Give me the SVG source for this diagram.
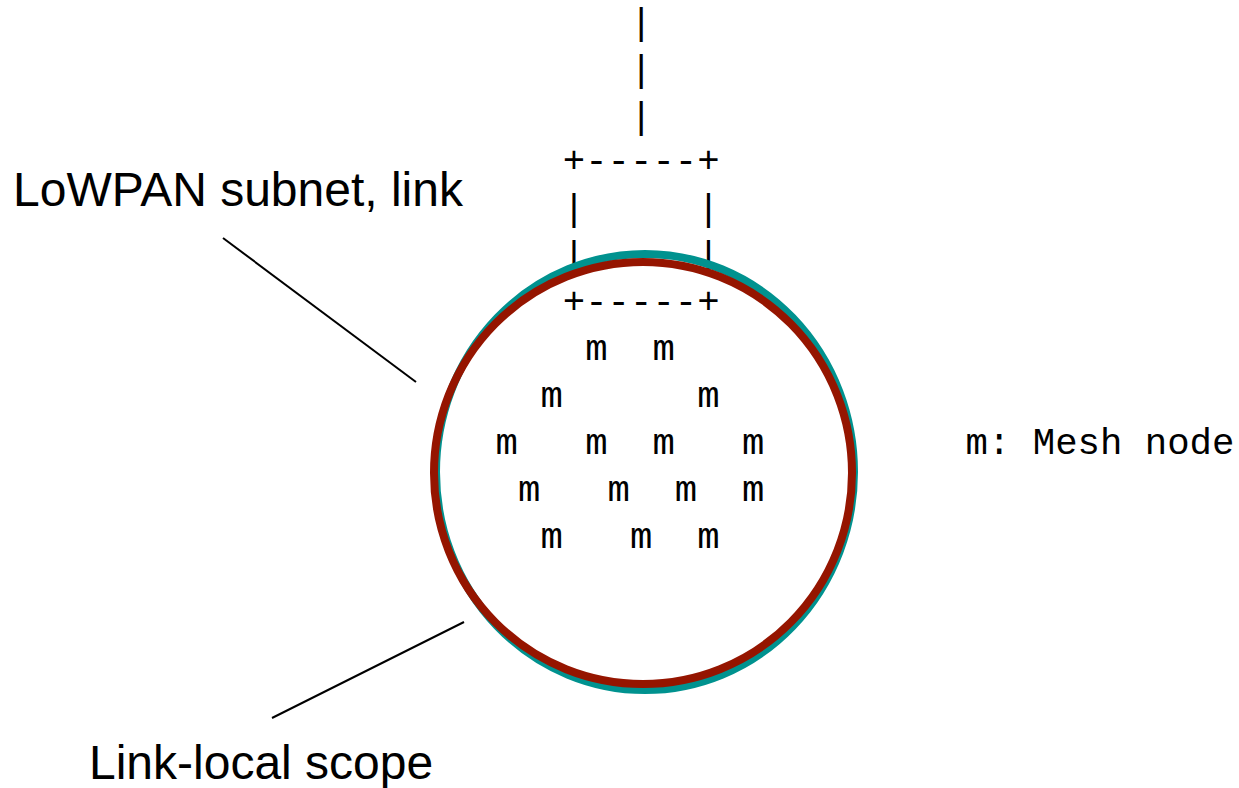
<svg xmlns="http://www.w3.org/2000/svg" width="1239" height="788" viewBox="0 0 1239 788">
<style>
.mono{font-family:"Liberation Mono","Courier New",monospace;font-size:37.33px;fill:#000}
.c{text-anchor:middle}
.lbl{font-family:"Liberation Sans",Arial,sans-serif;font-size:48px;fill:#000}
.lead{stroke:#000;stroke-width:2;fill:none}
</style>
<rect width="1239" height="788" fill="#fff"/>
<g id="uplink" class="mono c">
<text x="641.2" y="34">|</text>
<text x="641.2" y="81">|</text>
<text x="641.2" y="128">|</text>
</g>
<g id="router-box" class="mono">
<text x="562.8" y="172">+-----+</text>
<text class="c" x="574" y="220">|</text>
<text class="c" x="708.4" y="220">|</text>
<text class="c" x="574" y="267">|</text>
<text class="c" x="708.4" y="267">|</text>
<text x="562.8" y="313">+-----+</text>
</g>
<g id="mesh-nodes" class="mono c">
<text x="596.4" y="360">m</text>
<text x="663.6" y="360">m</text>
<text x="551.6" y="407">m</text>
<text x="708.4" y="407">m</text>
<text x="506.8" y="454">m</text>
<text x="596.4" y="454">m</text>
<text x="663.6" y="454">m</text>
<text x="753.2" y="454">m</text>
<text x="529.2" y="501">m</text>
<text x="618.8" y="501">m</text>
<text x="686" y="501">m</text>
<text x="753.2" y="501">m</text>
<text x="551.6" y="548">m</text>
<text x="641.2" y="548">m</text>
<text x="708.4" y="548">m</text>
</g>
<g id="legend" class="mono"><text x="965.6" y="454">m: Mesh node</text></g>
<g id="scope-circle"><ellipse cx="645" cy="472" rx="209" ry="218" fill="none" stroke="#00928f" stroke-width="8"/></g>
<g id="subnet-circle"><ellipse cx="643" cy="473" rx="209" ry="211" fill="none" stroke="#951500" stroke-width="8"/></g>
<g id="connectors">
<line class="lead" x1="223" y1="238" x2="416" y2="382"/>
<line class="lead" x1="464" y1="622" x2="272" y2="718"/>
</g>
<g id="label-subnet"><text class="lbl" x="13" y="206">LoWPAN subnet, link</text></g>
<g id="label-scope"><text class="lbl" x="89" y="779">Link-local scope</text></g>
</svg>
